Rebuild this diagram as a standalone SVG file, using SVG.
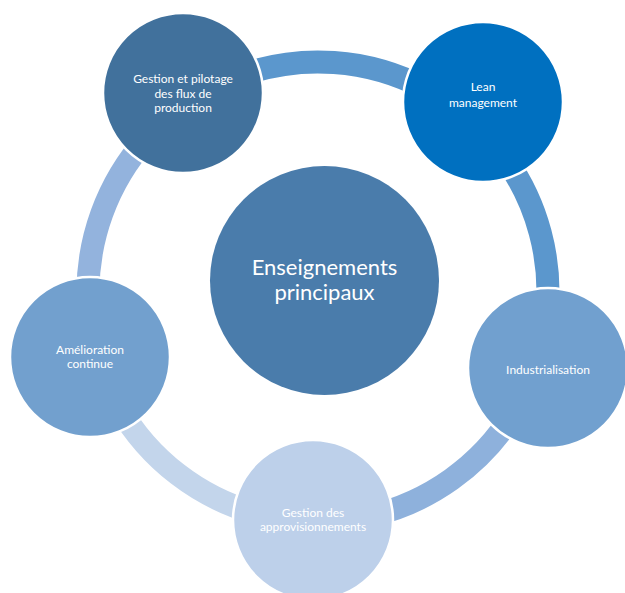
<svg xmlns="http://www.w3.org/2000/svg" width="625" height="593" viewBox="0 0 625 593">
<style>
.band{fill:none;stroke-width:23;stroke-linecap:butt}
.node{stroke:#ffffff;stroke-width:2.5}
.t{font-family:Lato,"Open Sans","Liberation Sans",sans-serif;fill:#ffffff;text-anchor:middle;font-size:12px}
.tc{font-size:22px}
</style>
<rect width="625" height="593" fill="#ffffff"/>
<g id="connectors">
<path class="band" stroke="#5B97CD" d="M239.34,75.87 A230,230 0 0 1 425.98,88.93"/>
<path class="band" stroke="#5B97CD" d="M506.40,160.08 A230,230 0 0 1 547.12,312.05"/>
<path class="band" stroke="#8EB1DC" d="M513.05,413.88 A230,230 0 0 1 369.74,516.11"/>
<path class="band" stroke="#C3D5EB" d="M258.47,514.16 A230,230 0 0 1 118.81,407"/>
<path class="band" stroke="#93B3DD" d="M88.14,300.03 A230,230 0 0 1 147.08,138.10"/>
</g>
<g id="center">
<circle cx="324.5" cy="280.5" r="114.5" fill="#4A7CAB"/>
<text class="t tc" x="324.5" y="275">Enseignements</text>
<text class="t tc" x="324.5" y="300">principaux</text>
</g>
<g id="node-gestion-flux">
<circle class="node" cx="183" cy="93" r="80" fill="#41719C"/>
<text class="t" x="183" y="83">Gestion et pilotage</text>
<text class="t" x="183" y="98">des flux de</text>
<text class="t" x="183" y="112">production</text>
</g>
<g id="node-lean">
<circle class="node" cx="483" cy="102" r="80" fill="#0070C0"/>
<text class="t" x="483" y="91">Lean</text>
<text class="t" x="483" y="107">management</text>
</g>
<g id="node-industrialisation">
<circle class="node" cx="548" cy="368" r="80" fill="#71A0CF"/>
<text class="t" x="548" y="374">Industrialisation</text>
</g>
<g id="node-approvisionnements">
<circle class="node" cx="313" cy="520" r="80" fill="#BDD0EA"/>
<text class="t" x="313" y="517">Gestion des</text>
<text class="t" x="313" y="531">approvisionnements</text>
</g>
<g id="node-amelioration">
<circle class="node" cx="90" cy="357" r="80" fill="#72A0CE"/>
<text class="t" x="90" y="354">Amélioration</text>
<text class="t" x="90" y="368">continue</text>
</g>
</svg>
